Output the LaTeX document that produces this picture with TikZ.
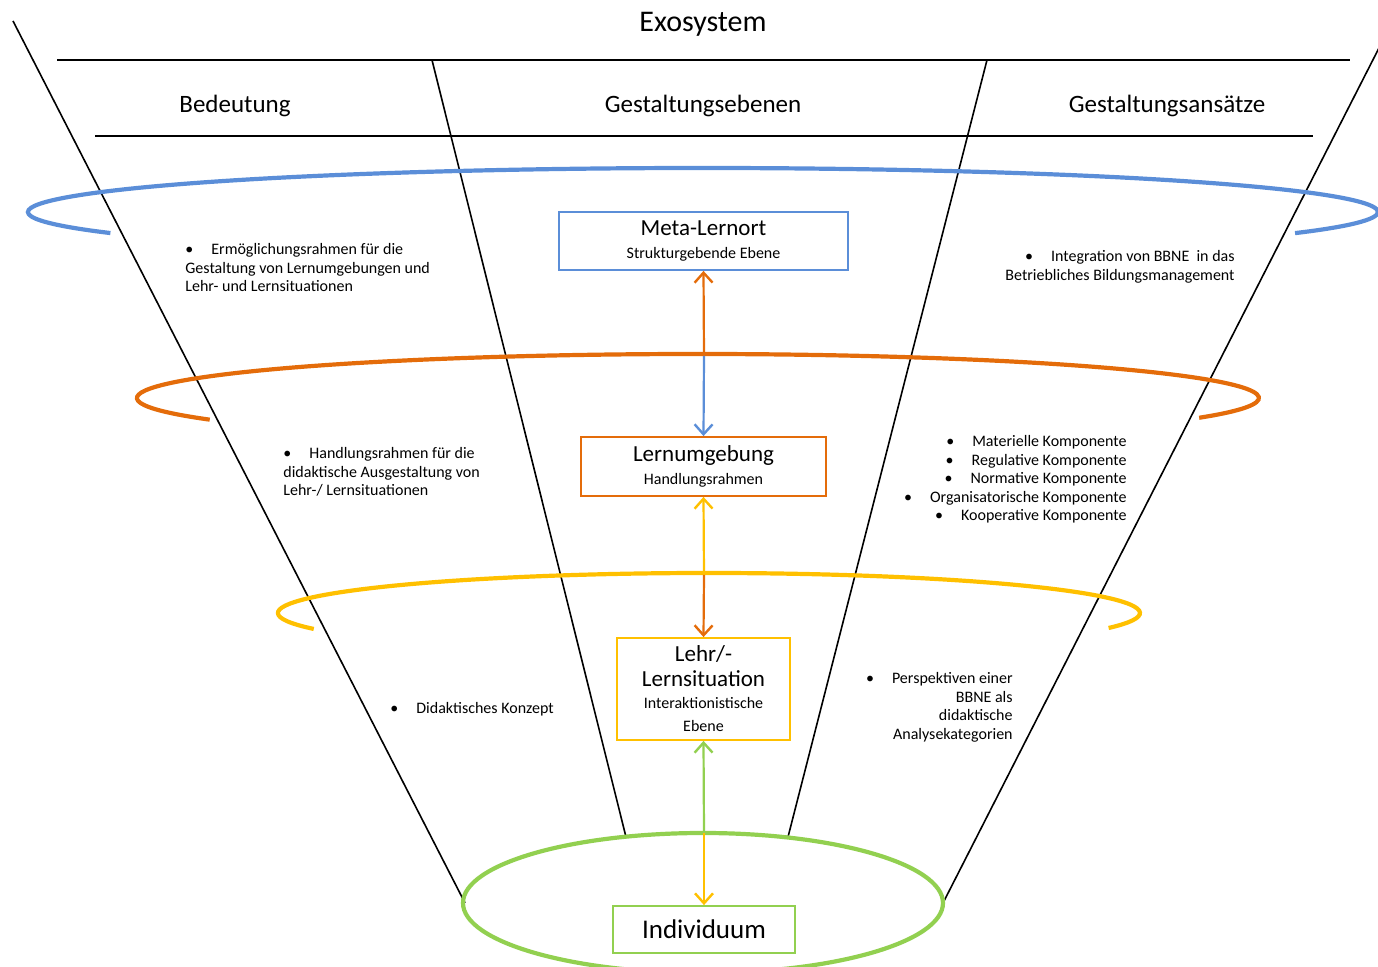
\documentclass[tikz,border=0pt]{standalone}
\usepackage{fontspec}
\setmainfont{Carlito}
\usetikzlibrary{arrows.meta}
\definecolor{cblue}{HTML}{5B8ED8}
\definecolor{corange}{HTML}{E46C0A}
\definecolor{cyellow}{HTML}{FFC000}
\definecolor{cgreen}{HTML}{92D050}
\newcommand{\bul}{\textbullet\hspace{9pt}}
\newcommand{\ttlf}{\fontsize{11.5}{13}\selectfont}
\newcommand{\subf}{\fontsize{8}{9}\selectfont}
\begin{document}
\begin{tikzpicture}[x=0.5pt,y=-0.5pt,
  frame/.style={line width=0.8pt, black},
  ring/.style={line width=2.1pt},
  lvlbox/.style={draw, line width=0.9pt, fill=white, align=center, inner sep=2pt},
  link/.style={line width=1.1pt, -{Straight Barb[length=5pt,width=9pt,line width=1.2pt]}},
  hdr/.style={font=\fontsize{12.5}{14}\selectfont, inner sep=0pt},
  note/.style={font=\fontsize{8}{9.25}\selectfont, inner sep=0pt},
]
\useasboundingbox (0,0) rectangle (1378,967);
% frame lines
\coordinate (t1l) at (57,60);   \coordinate (t1r) at (1350,60);
\coordinate (t2l) at (95,136);  \coordinate (t2r) at (1313,136);
\coordinate (lo1) at (13,21);   \coordinate (lo2) at (465,903);
\coordinate (li1) at (432,60);  \coordinate (li2) at (626,837);
\coordinate (ri1) at (987,60);  \coordinate (ri2) at (788,837);
\coordinate (ro1) at (1380,46); \coordinate (ro2) at (943,903);
\draw[frame] (t1l) -- (t1r);
\draw[frame] (t2l) -- (t2r);
\draw[frame] (lo1) -- (lo2);
\draw[frame] (li1) -- (li2);
\draw[frame] (ri1) -- (ri2);
\draw[frame] (ro1) -- (ro2);
% rings
\coordinate (cb) at (703,212);
\coordinate (co) at (698,398);
\coordinate (cy) at (709,613);
\coordinate (cg) at (703,903);
\draw[ring, cblue] (cb) ++(151.4:675 and 44) arc[start angle=151.4, end angle=388.7, x radius=675, y radius=44];
\draw[ring, corange] (co) ++(150.5:561 and 44) arc[start angle=150.5, end angle=386.7, x radius=561, y radius=44];
\draw[ring, cyellow] (cy) ++(156.5:431 and 40) arc[start angle=156.5, end angle=382, x radius=431, y radius=40];
\draw[ring, cgreen] (cg) ellipse[x radius=240, y radius=70];
% headers
\node[font=\fontsize{15}{17}\selectfont, inner sep=0pt] (exo) at (703,24) {Exosystem};
\node[hdr] (h1) at (235,106) {Bedeutung};
\node[hdr] (h2) at (703,106) {Gestaltungsebenen};
\node[hdr] (h3) at (1167,106) {Gestaltungsansätze};
% boxes
\node[lvlbox, draw=cblue, minimum width=144.5pt, minimum height=29pt, text depth=1pt] (meta) at (703.5,241)
  {{\ttlf Meta-Lernort}\\[-0.5pt]{\subf Strukturgebende Ebene}};
\node[lvlbox, draw=corange, minimum width=122.5pt, minimum height=29.5pt, text depth=1pt] (lern) at (703.5,466.5)
  {{\ttlf Lernumgebung}\\[-0.5pt]{\subf Handlungsrahmen}};
\node[lvlbox, draw=cyellow, minimum width=86.5pt, minimum height=51pt] (lehr) at (703.5,689)
  {{\ttlf Lehr/-}\\[0.5pt]{\ttlf Lernsituation}\\[-1pt]{\subf Interaktionistische}\\[-0.5pt]{\subf Ebene}};
\node[lvlbox, draw=cgreen, minimum width=91pt, minimum height=23.5pt, font=\fontsize{13.5}{15}\selectfont] (indi) at (704,929.5) {Individuum};
% connectors
\coordinate (s1) at (704,356);
\coordinate (s2) at (704,575);
\coordinate (s3) at (704,833);
\draw[link, corange] (s1) -- (meta.south);
\draw[link, cblue] (s1) -- (lern.north);
\draw[link, cyellow] (s2) -- (lern.south);
\draw[link, corange] (s2) -- (lehr.north);
\draw[link, cgreen] (s3) -- (lehr.south);
\draw[link, cyellow] (s3) -- (indi.north);
% notes
\node[note, anchor=north west, align=left] (n1) at (185,243)
  {\bul Ermöglichungsrahmen für die\\Gestaltung von Lernumgebungen und\\Lehr- und Lernsituationen};
\node[note, anchor=north east, align=right] (n2) at (1235,250)
  {\bul Integration von BBNE\ \ in das\\Betriebliches Bildungsmanagement};
\node[note, anchor=north west, align=left] (n3) at (283,447)
  {\bul Handlungsrahmen für die\\didaktische Ausgestaltung von\\Lehr-/ Lernsituationen};
\node[note, anchor=north east, align=right] (n4) at (1127,435)
  {\bul Materielle Komponente\\\bul Regulative Komponente\\\bul Normative Komponente\\\bul Organisatorische Komponente\\\bul Kooperative Komponente};
\node[note, anchor=north west, align=left] (n5) at (390,702)
  {\bul Didaktisches Konzept};
\node[note, anchor=north east, align=right] (n6) at (1013,672)
  {\bul Perspektiven einer\\BBNE als\\didaktische\\Analysekategorien};
\end{tikzpicture}
\end{document}
